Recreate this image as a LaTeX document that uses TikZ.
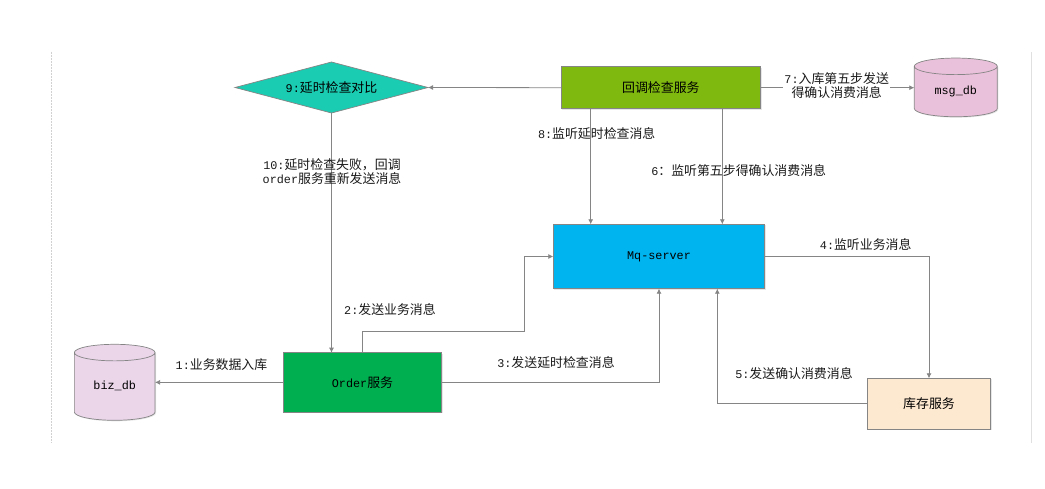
\documentclass[tikz,border=0pt]{standalone}
\usepackage{fontspec}
\setmainfont{Liberation Mono}
\newfontfamily\cjk{Noto Sans CJK SC}
\usetikzlibrary{arrows.meta,shapes.geometric,shadows}
\newcommand{\cn}[1]{{\cjk\fontsize{12.9pt}{14pt}\selectfont #1}}
\definecolor{edgegray}{HTML}{858585}
\tikzset{%
  box/.style      = {shape=rectangle, draw=edgegray, line width=.7pt, inner sep=0pt, outer sep=0pt,%
                     drop shadow={opacity=.2, shadow xshift=1pt, shadow yshift=-1pt}},%
  dbnode/.style   = {cylinder, shape border rotate=90, anchor=shape center, draw=edgegray, line width=.7pt,%
                     inner sep=0pt, outer sep=0pt, drop shadow={opacity=.2, shadow xshift=1pt, shadow yshift=-1pt}},%
  flow/.style     = {draw=edgegray, line width=.8pt, -{Latex[length=5pt,width=5pt]}},%
  steplabel/.style= {align=center, text=black!90}%
}
\begin{document}
\begin{tikzpicture}[x=1pt,y=-1pt,every node/.style={font=\fontsize{11.8pt}{14pt}\selectfont}]
	\useasboundingbox (0,0) rectangle (1045,489);
	% page edges
	\draw[black!18,dash pattern=on 2pt off 1pt,line width=.8pt] (51,52) -- (51,443);
	\draw[black!12,line width=.8pt] (1031,52) -- (1031,443);
	% boxes
	\node[diamond,draw=edgegray,line width=.7pt,inner sep=0pt,outer sep=0pt,aspect=3.78,minimum width=193pt,minimum height=51pt,fill={rgb,255:red,26;green,204;blue,177}] (check) at (331.5,87.5) {9:\cn{延时检查对比}};
	\node[box,fill={rgb,255:red,127;green,184;blue,14},minimum width=199.7pt,minimum height=42pt] (callback) at (660.85,87.7) {\cn{回调检查服务}};
	\node[box,fill={rgb,255:red,0;green,180;blue,239},minimum width=211.4pt,minimum height=64.4pt] (mq) at (659,256.5) {\raisebox{-1.5pt}{Mq-server}};
	\node[box,fill={rgb,255:red,0;green,175;blue,80},minimum width=158.4pt,minimum height=59.3pt] (order) at (362.5,382.35) {Order\cn{服务}};
	\node[box,fill={rgb,255:red,253;green,232;blue,208},minimum width=123.4pt,minimum height=51pt] (stock) at (929,403.8) {\cn{库存服务}};
	\node[dbnode,aspect=.39,fill={rgb,255:red,234;green,193;blue,218},minimum width=83pt,minimum height=58.7pt] (msgdb) at (955.8,87.4) {\raisebox{3pt}{msg\_db}};
	\node[dbnode,aspect=.39,fill={rgb,255:red,234;green,213;blue,233},minimum width=80.7pt,minimum height=76pt] (bizdb) at (114.7,382.3) {\raisebox{3pt}{biz\_db}};
	% helpers for the bends
	\coordinate (tapeight) at (590.7,160);
	\coordinate (tapsix) at (722.3,160);
	\coordinate (tapfive) at (717.3,330);
	\coordinate (bendtwo) at (524.3,331.3);
	% connectors
	\draw[flow] (callback.west) -- (check.east);
	\draw[flow] (callback.south -| tapeight) -- (mq.north -| tapeight);
	\draw[flow] (callback.south -| tapsix) -- (mq.north -| tapsix);
	\draw[flow] (callback.east) -- (callback.east -| msgdb.west);
	\draw[flow] (check.south) -- (check.south |- order.north);
	\draw[flow] (order.west) -- (order.west -| bizdb.east);
	\draw[flow] (order.north) |- (bendtwo) |- (mq.west);
	\draw[flow] (order.east) -| (mq.south);
	\draw[flow] (mq.east) -| (stock.north);
	\draw[flow] (stock.west) -| (tapfive |- mq.south);
	% labels
	\node[steplabel] (labelone) at (221.5,364.3) {1:\cn{业务数据入库}};
	\node[steplabel] (labeltwo) at (390,309.3) {2:\cn{发送业务消息}};
	\node[steplabel] (labelthree) at (556,363) {3:\cn{发送延时检查消息}};
	\node[steplabel] (labelfour) at (865.7,245) {4:\cn{监听业务消息}};
	\node[steplabel] (labelfive) at (794,374) {5:\cn{发送确认消费消息}};
	\node[steplabel] (labelsix) at (738.7,170.7) {6\cn{：监听第五步得确认消费消息}};
	\node[steplabel,fill=white,inner sep=1pt] (labelseven) at (836.7,86) {7:\cn{入库第五步发送}\\\cn{得确认消费消息}};
	\node[steplabel] (labeleight) at (596.7,134) {8:\cn{监听延时检查消息}};
	\node[steplabel] (labelten) at (332,171.7) {10:\cn{延时检查失败，回调}\\order\cn{服务重新发送消息}};
\end{tikzpicture}
\end{document}
